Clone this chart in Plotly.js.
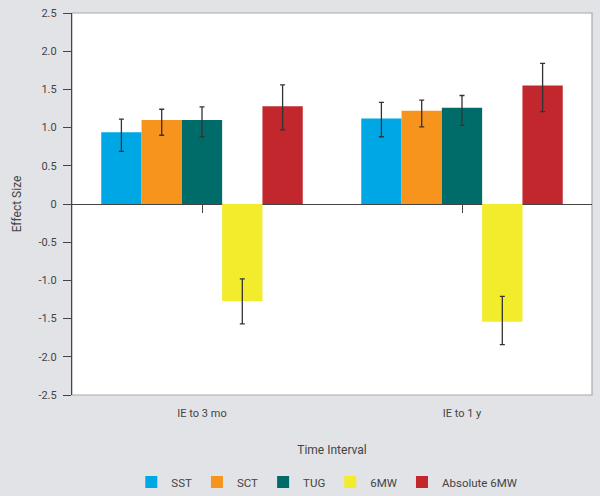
<!DOCTYPE html>
<html><head><meta charset="utf-8">
<script src="https://cdn.plot.ly/plotly-3.0.1.min.js"></script>
<style>html,body{margin:0;padding:0;background:#e1e3e6;}</style>
</head><body><div id="chart" style="width:600px;height:496px;"></div>
<script>
const categories = ["IE to 3 mo", "IE to 1 y"];
const seriesNames = ["SST", "SCT", "TUG", "6MW", "Absolute 6MW"];
const sst = [0.94, 1.12];
const sct = [1.10, 1.22];
const tug = [1.10, 1.26];
const sixMW = [-1.27, -1.54];
const abs6MW = [1.28, 1.55];
const sstErrPlus = [0.17, 0.21], sstErrMinus = [0.25, 0.24];
const sctErrPlus = [0.14, 0.14], sctErrMinus = [0.20, 0.21];
const tugErrPlus = [0.17, 0.16], tugErrMinus = [0.22, 0.23];
const sixErrPlus = [0.29, 0.33], sixErrMinus = [0.30, 0.30];
const absErrPlus = [0.28, 0.29], absErrMinus = [0.31, 0.34];
const yTickVals = [2.5, 2.0, 1.5, 1.0, 0.5, 0, -0.5, -1.0, -1.5, -2.0, -2.5];
const yTickText = ["2.5", "2.0", "1.5", "1.0", "0.5", "0", "-0.5", "-1.0", "-1.5", "-2.0", "-2.5"];

const colors = ["#00a7e5", "#f7941d", "#006c6a", "#f3ec2c", "#c1272d"];
const values = [sst, sct, tug, sixMW, abs6MW];
const plus = [sstErrPlus, sctErrPlus, tugErrPlus, sixErrPlus, absErrPlus];
const minus = [sstErrMinus, sctErrMinus, tugErrMinus, sixErrMinus, absErrMinus];

const font = "Roboto, 'Liberation Sans Narrow', Arial, sans-serif";
const traces = seriesNames.map((n, i) => ({
  type: "bar", name: n, x: categories, y: values[i],
  marker: {color: colors[i], line: {width: 0}},
  error_y: {type: "data", symmetric: false, array: plus[i], arrayminus: minus[i],
            color: "#333", thickness: 1.3, width: 2.5}
}));
// invisible helper trace so the zero-line tick axis is drawn
traces.push({type: "scatter", mode: "markers", x: categories, y: [null, null],
             xaxis: "x2", yaxis: "y", showlegend: false, hoverinfo: "skip"});

const layout = {
  width: 600, height: 496,
  paper_bgcolor: "#e1e3e6", plot_bgcolor: "#ffffff",
  margin: {l: 72, r: 8, t: 13, b: 101, autoexpand: false},
  font: {family: font, size: 11, color: "#444"},
  barmode: "group", bargap: 0.225, bargroupgap: 0,
  showlegend: true,
  legend: {orientation: "h", x: 0.49, xanchor: "center", y: -0.19, yanchor: "top",
           font: {family: font, size: 11.5, color: "#444"}, itemwidth: 30,
           traceorder: "normal", bgcolor: "rgba(0,0,0,0)"},
  xaxis: {type: "category", range: [-0.5, 1.5], showline: false,
          ticks: "outside", ticklen: 8, tickcolor: "rgba(0,0,0,0)",
          showgrid: false, zeroline: false, tickfont: {size: 11},
          title: {text: "Time Interval", font: {size: 12, color: "#444"}, standoff: 26}},
  xaxis2: {type: "category", overlaying: "x", anchor: "free", position: 0.5, range: [-0.5, 1.5],
           showticklabels: false, ticks: "outside", ticklen: 8,
           tickcolor: "#444", tickwidth: 1, showline: false, showgrid: false, zeroline: false},
  yaxis: {range: [-2.5, 2.5], tickvals: yTickVals, ticktext: yTickText,
          ticks: "outside", ticklen: 8, tickcolor: "#444", tickwidth: 1.2,
          showline: true, linecolor: "#444", linewidth: 1.2, showgrid: false,
          zeroline: true, zerolinecolor: "#444", zerolinewidth: 1,
          tickfont: {size: 11}, ticklabelstandoff: 4,
          title: {text: "Effect Size", font: {size: 12, color: "#444"}, standoff: 14}},
  shapes: [{type: "rect", xref: "paper", yref: "paper", x0: 0, x1: 1, y0: 0, y1: 1,
            line: {color: "#a9a9a9", width: 1.2}, layer: "below"}]
};
Plotly.newPlot("chart", traces, layout, {displayModeBar: false});
</script></body></html>
